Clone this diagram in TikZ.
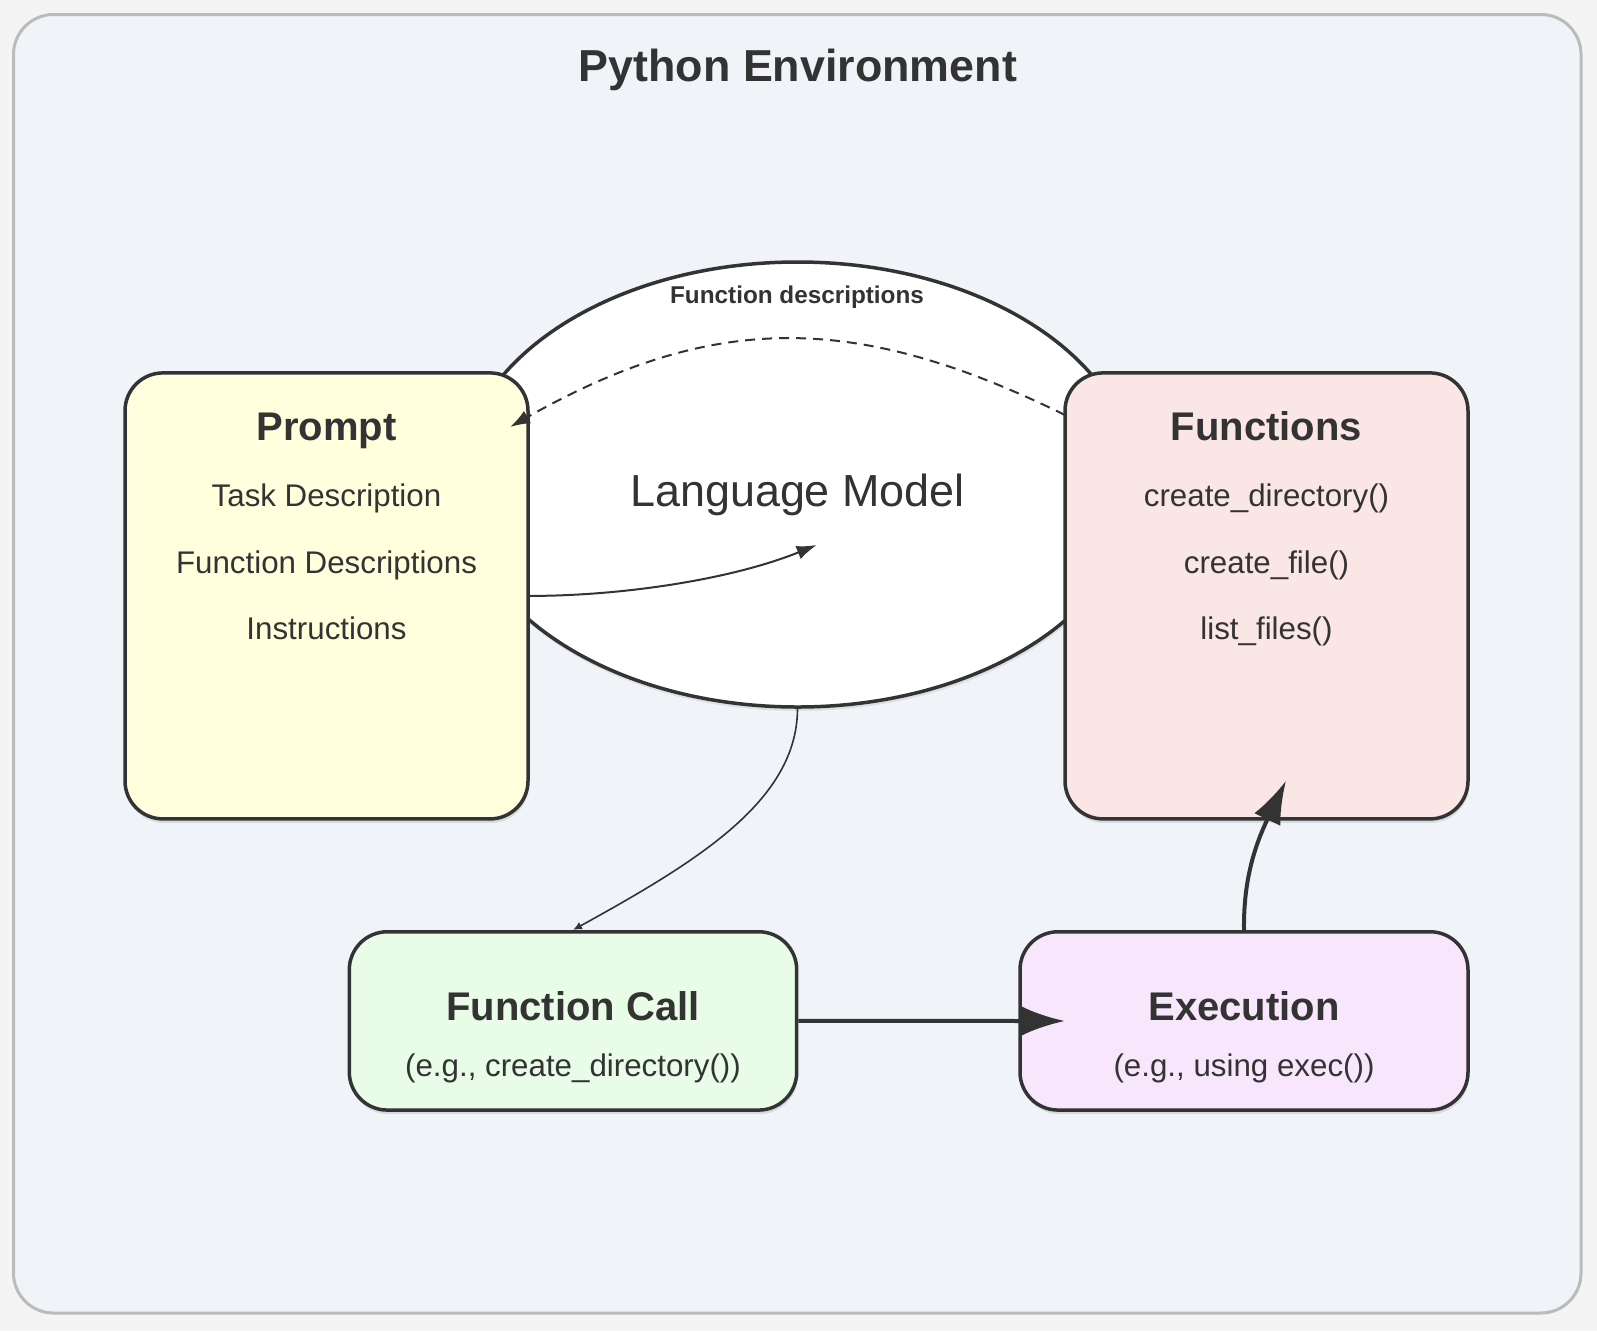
\documentclass[tikz,border=0pt]{standalone}
\usepackage{fontspec}
\setmainfont{Liberation Sans}
\usetikzlibrary{arrows.meta,shapes.geometric,shadows}
\definecolor{ink}{HTML}{333333}
\definecolor{outerbg}{HTML}{F4F4F4}
\definecolor{innerbg}{HTML}{F0F3F8}
\definecolor{framecol}{HTML}{BBBBBB}
\definecolor{promptfill}{HTML}{FFFFDE}
\definecolor{funcfill}{HTML}{FBE6E6}
\definecolor{callfill}{HTML}{E8FCE8}
\definecolor{execfill}{HTML}{F8E6FC}
\newcommand\myfs[1]{\fontsize{#1}{#1}\selectfont}
\tikzset{
  box/.style={draw=ink, line width=3.5pt, rounded corners=38pt, inner sep=0pt,
    drop shadow={shadow xshift=1pt, shadow yshift=-4pt, opacity=0.10, fill=black}},
  txt/.style={anchor=base, inner sep=0pt, text=ink},
  ttl/.style={txt, font=\myfs{40}\bfseries},
  item/.style={txt, font=\myfs{31.3}},
  thinarrow/.style={draw=ink, line width=2pt, -{Latex[length=20pt,width=14pt]}},
  tinyarrow/.style={draw=ink, line width=1.6pt, -{Latex[length=9pt,width=8pt]}},
  thickarrow/.style={draw=ink, line width=4pt, -{Latex[length=43pt,width=29pt]}},
}
\begin{document}
\begin{tikzpicture}[x=1pt,y=-1pt]
\useasboundingbox (0,0) rectangle (1597,1331);
\fill[outerbg] (0,0) rectangle (1597,1331);
\draw[draw=framecol, fill=innerbg, line width=3pt, rounded corners=40pt] (13.5,14.5) rectangle (1581,1313);

\node[txt, font=\myfs{44.8}\bfseries] (title) at (797.9,81.7) {Python Environment};

% Language model ellipse
\node[ellipse, draw=ink, fill=white, line width=3.5pt, minimum width=676pt, minimum height=445pt, inner sep=0pt,
  drop shadow={shadow xshift=1pt, shadow yshift=-4pt, opacity=0.08, fill=black}] (lm) at (797.5,484.5) {};
\node[txt, font=\myfs{44.9}] (lmtext) at (797.5,506) {Language Model};
\node[txt, font=\myfs{24.3}\bfseries] (fdesc) at (797,303) {Function descriptions};

% boxes
\node[box, fill=promptfill, minimum width=403pt, minimum height=446pt] (prompt) at (326.5,595.9) {};
\node[box, fill=funcfill, minimum width=403pt, minimum height=446pt] (functions) at (1266.5,595.9) {};
\node[box, fill=callfill, minimum width=447.4pt, minimum height=178.3pt] (fc) at (573,1020.9) {};
\node[box, fill=execfill, minimum width=448pt, minimum height=178.3pt] (ex) at (1244,1020.9) {};

% texts
\node[ttl] (ptitle) at (326.5,440) {Prompt};
\node[item] (p1) at (326.5,506.7) {Task Description};
\node[item] (p2) at (326.5,573.2) {Function Descriptions};
\node[item] (p3) at (326.5,639.7) {Instructions};

\node[ttl] (ftitle) at (1266.5,440) {Functions};
\node[item] (f1) at (1266.5,506.7) {create\_directory()};
\node[item] (f2) at (1266.5,573.2) {create\_file()};
\node[item] (f3) at (1266.5,639.7) {list\_files()};

\node[ttl] (fctitle) at (573,1020) {Function Call};
\node[item] (fcsub) at (573,1076.7) {(e.g., create\_directory())};

\node[ttl] (extitle) at (1244,1020) {Execution};
\node[item] (exsub) at (1244,1076.7) {(e.g., using exec())};

% connectors
\coordinate (dashstart) at (1065,415);
\coordinate (dashend) at (510,427);
\coordinate (lmtip) at (816.7,545);
\coordinate (extip) at (1065,1021);
\coordinate (funtip) at (1286,780.7);

\draw[thinarrow, dash pattern=on 10pt off 7pt] (dashstart) .. controls (859,314) and (716,310) .. (dashend);
\draw[thinarrow] (prompt.east) .. controls (620,596) and (730,580) .. (lmtip);
\draw[tinyarrow] (lm.south) .. controls (797,800) and (700,860) .. (fc.north);
\draw[thickarrow] (fc.east) -- (extip);
\draw[thickarrow] (ex.north) .. controls (1243.3,880) and (1255,845) .. (funtip);
\end{tikzpicture}
\end{document}
